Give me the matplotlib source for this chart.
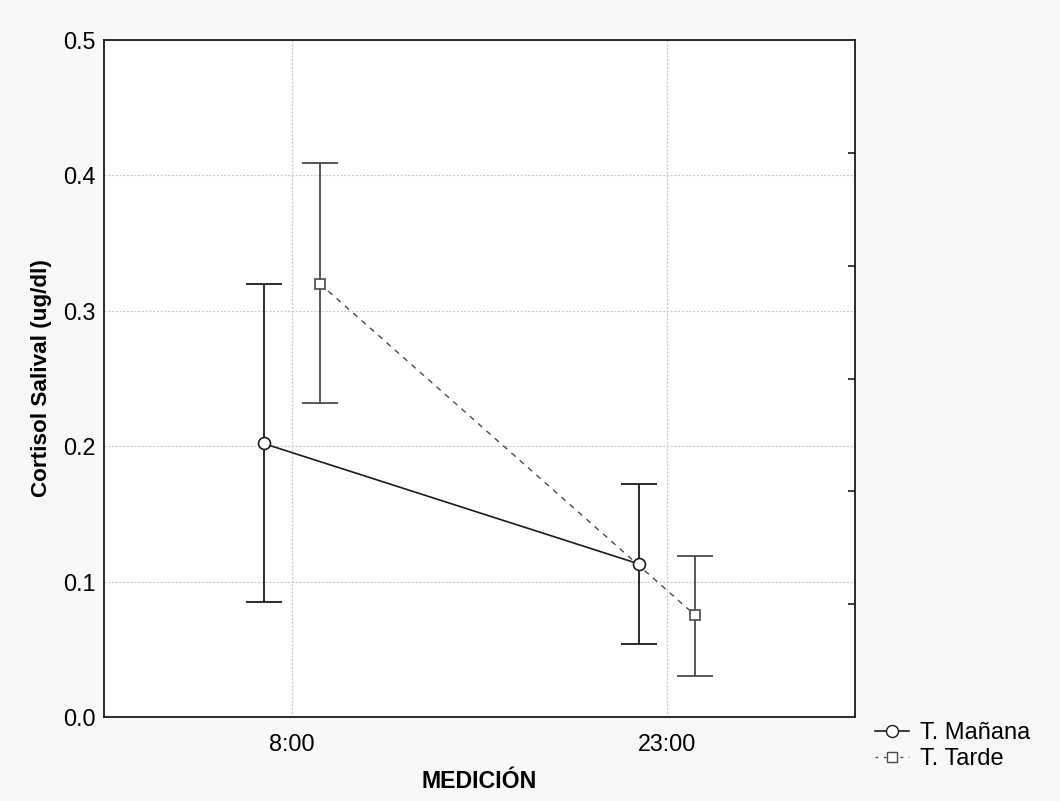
import matplotlib
matplotlib.use("Agg")
import matplotlib.pyplot as plt
from matplotlib.lines import Line2D
import numpy as np

plt.rcParams['font.family'] = ['Liberation Sans', 'DejaVu Sans']

categories = ["8:00", "23:00"]
series_names = ["T. Mañana", "T. Tarde"]

manana_mean = [0.202, 0.113]
manana_upper = [0.320, 0.172]
manana_lower = [0.085, 0.054]

tarde_mean = [0.320, 0.075]
tarde_upper = [0.409, 0.119]
tarde_lower = [0.232, 0.030]

y_ticks = [0.0, 0.1, 0.2, 0.3, 0.4, 0.5]
y_tick_labels = ["0.0", "0.1", "0.2", "0.3", "0.4", "0.5"]

fig = plt.figure(figsize=(10.6, 8.01), dpi=100, facecolor="#f8f8f8")
ax = fig.add_axes([104 / 1060, 1 - 717 / 801, (855 - 104) / 1060, (717 - 40) / 801])
ax.set_facecolor("white")

x = np.arange(len(categories))
offset = 0.075

dark = "#1a1a1a"
mid = "#4a4a4a"

ax.errorbar(x - offset, manana_mean,
            yerr=[np.array(manana_mean) - np.array(manana_lower),
                  np.array(manana_upper) - np.array(manana_mean)],
            fmt="none", ecolor=dark, elinewidth=1.3, capsize=13.3, capthick=1.3, zorder=3)
ax.plot(x - offset, manana_mean, "-", color=dark, linewidth=1.2, zorder=4)
ax.plot(x - offset, manana_mean, "o", markersize=8.6, markerfacecolor="white",
        markeredgecolor=dark, markeredgewidth=1.2, zorder=5)

ax.errorbar(x + offset, tarde_mean,
            yerr=[np.array(tarde_mean) - np.array(tarde_lower),
                  np.array(tarde_upper) - np.array(tarde_mean)],
            fmt="none", ecolor=mid, elinewidth=1.3, capsize=13.3, capthick=1.3, zorder=3)
ax.plot(x + offset, tarde_mean, color=mid, linewidth=1.0, dashes=(4, 4), zorder=4)
ax.plot(x + offset, tarde_mean, "s", markersize=7.8, markerfacecolor="white",
        markeredgecolor=mid, markeredgewidth=1.2, zorder=5)

ax.set_xlim(-0.5, 1.5)
ax.set_ylim(0, 0.5)
ax.set_xticks(x)
ax.set_xticklabels(categories)
ax.set_yticks(y_ticks)
ax.set_yticklabels(y_tick_labels)
ax.tick_params(axis="both", length=0, labelsize=16.8, colors="black")
ax.tick_params(axis="x", pad=11.5)
ax.tick_params(axis="y", pad=6)

ax.grid(True, color="#c4c4c4", linestyle=(0, (1.5, 1.5)), linewidth=0.9, zorder=0)
ax.set_axisbelow(True)

for s in ax.spines.values():
    s.set_linewidth(1.3)
    s.set_color(dark)

# secondary scale on the right: inward ticks with six divisions, no labels
ax2 = ax.twinx()
ax2.set_ylim(0, 1)
ax2.set_yticks(np.linspace(0, 1, 7)[1:-1])
ax2.set_yticklabels([])
ax2.tick_params(axis="y", direction="in", length=5, width=1.2, colors=dark)
for s in ax2.spines.values():
    s.set_visible(False)

ax.set_xlabel("MEDICIÓN", fontsize=16.7, fontweight="bold", labelpad=10)
ax.set_ylabel("Cortisol Salival (ug/dl)", fontsize=16.2, fontweight="bold", labelpad=8)

handles = [
    Line2D([], [], color=dark, linewidth=1.2, marker="o", markersize=8.6,
           markerfacecolor="white", markeredgecolor=dark),
    Line2D([], [], color=mid, linewidth=1.0, dashes=(2, 4), marker="s", markersize=7.8,
           markerfacecolor="white", markeredgecolor=mid),
]
fig.legend(handles, series_names, loc="center left", bbox_to_anchor=(875 / 1060, 1 - 746 / 801),
           frameon=False, fontsize=17, handlelength=1.45, handletextpad=0.47,
           labelspacing=0.15, borderaxespad=0, borderpad=0)

fig.savefig("out.png", dpi=100, facecolor=fig.get_facecolor())
